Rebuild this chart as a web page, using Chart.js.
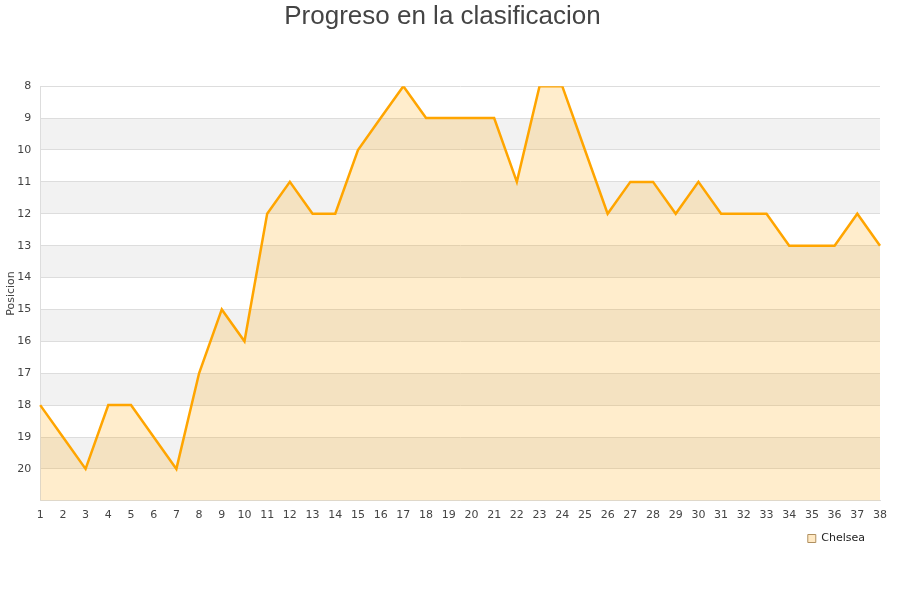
<!DOCTYPE html>
<html>
<head>
<meta charset="utf-8">
<script src="https://cdn.jsdelivr.net/npm/chart.js@4"></script>
<style>
  html, body { margin: 0; padding: 0; background: #fff; }
  #wrap { width: 900px; height: 600px; }
</style>
</head>
<body>
<div id="wrap"><canvas id="chart"></canvas></div>
<script>
const jornadas = [1,2,3,4,5,6,7,8,9,10,11,12,13,14,15,16,17,18,19,20,21,22,23,24,25,26,27,28,29,30,31,32,33,34,35,36,37,38];
const chelsea = [18,19,20,18,18,19,20,17,15,16,12,11,12,12,10,9,8,9,9,9,9,11,8,8,10,12,11,11,12,11,12,12,12,13,13,13,12,13];
const posMin = 8;
const posMax = 21;

// franjas grises alternas detras de la linea
const bandas = {
    id: "bandas",
    beforeDraw(chart) {
        const ctx = chart.ctx;
        const area = chart.chartArea;
        const y = chart.scales.y;
        ctx.save();
        ctx.fillStyle = "#f2f2f2";
        for(let k = posMin + 1; k < posMax; k += 2) {
            const top = y.getPixelForValue(k);
            const bottom = y.getPixelForValue(k + 1);
            ctx.fillRect(area.left, top, area.right - area.left, bottom - top);
        }
        ctx.restore();
    }
};

// la leyenda queda un poco separada del borde derecho
const leyendaIzq = {
    id: "leyendaIzq",
    afterLayout(chart) {
        if(chart.legend) chart.legend.right -= 12;
    }
};

new Chart(document.getElementById("chart"), {
    type: "line",
    data: {
        labels: jornadas,
        datasets: [{
            label: "Chelsea",
            data: chelsea,
            borderColor: "#FFA500",
            backgroundColor: "rgba(255, 165, 0, 0.2)",
            borderWidth: 2.5,
            pointRadius: 0,
            tension: 0,
            fill: { value: posMax }
        }]
    },
    options: {
        responsive: true,
        maintainAspectRatio: false,
        animation: false,
        layout: { padding: { left: 5, right: 20, top: 0, bottom: 46 } },
        scales: {
            x: {
                offset: false,
                grid: { display: false, drawTicks: false },
                border: { color: "#dddddd" },
                ticks: {
                    color: "#444",
                    font: { family: "DejaVu Sans", size: 11 },
                    padding: 8,
                    maxRotation: 0,
                    autoSkip: false
                }
            },
            y: {
                reverse: true,
                min: posMin,
                max: posMax,
                afterFit(scale) { scale.width -= 10; },
                grid: { color: "#dddddd", drawTicks: false },
                border: { color: "#dddddd" },
                ticks: {
                    stepSize: 1,
                    color: "#444",
                    font: { family: "DejaVu Sans", size: 11 },
                    padding: 9,
                    callback: (v) => v === posMax ? "" : v
                },
                title: {
                    display: true,
                    text: "Posicion",
                    color: "#444",
                    font: { family: "DejaVu Sans", size: 11 },
                    padding: 0
                }
            }
        },
        plugins: {
            title: {
                display: true,
                text: "Progreso en la clasificacion",
                color: "#444",
                font: { family: "Liberation Sans", size: 26, weight: "normal" },
                padding: { top: 1, bottom: 54 }
            },
            legend: {
                position: "bottom",
                align: "end",
                labels: {
                    color: "#222",
                    font: { family: "DejaVu Sans", size: 11 },
                    boxWidth: 8,
                    boxHeight: 8,
                    padding: 3,
                    generateLabels: (chart) => chart.data.datasets.map((ds, i) => ({
                        text: ds.label,
                        fillStyle: "#FFE9C4",
                        strokeStyle: "#b09060",
                        lineWidth: 1,
                        fontColor: "#222",
                        datasetIndex: i
                    }))
                }
            },
            tooltip: { enabled: false }
        }
    },
    plugins: [bandas, leyendaIzq]
});
</script>
</body>
</html>
